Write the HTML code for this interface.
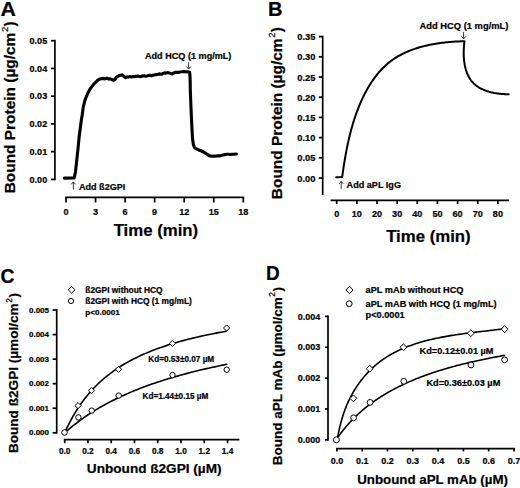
<!DOCTYPE html>
<html><head><meta charset="utf-8"><style>
html,body{margin:0;padding:0;background:#fff;}
svg{display:block;}
svg text{font-family:"Liberation Sans", sans-serif;fill:#000;stroke:#000;stroke-width:0.22px;}
</style></head><body>
<svg width="520" height="488" viewBox="0 0 520 488">
<text x="0" y="0" font-size="20.3" font-weight="bold" transform="translate(0.6,15.8) scale(1.05,1)">A</text>
<line x1="54.90" y1="39.85" x2="54.90" y2="180.25" stroke="#000" stroke-width="1.7"/>
<line x1="51.00" y1="179.40" x2="54.90" y2="179.40" stroke="#000" stroke-width="1.7"/>
<text x="47.20" y="182.60" font-size="9.1" text-anchor="end" font-weight="bold" >0.00</text>
<line x1="51.00" y1="151.66" x2="54.90" y2="151.66" stroke="#000" stroke-width="1.7"/>
<text x="47.20" y="154.86" font-size="9.1" text-anchor="end" font-weight="bold" >0.01</text>
<line x1="51.00" y1="123.92" x2="54.90" y2="123.92" stroke="#000" stroke-width="1.7"/>
<text x="47.20" y="127.12" font-size="9.1" text-anchor="end" font-weight="bold" >0.02</text>
<line x1="51.00" y1="96.18" x2="54.90" y2="96.18" stroke="#000" stroke-width="1.7"/>
<text x="47.20" y="99.38" font-size="9.1" text-anchor="end" font-weight="bold" >0.03</text>
<line x1="51.00" y1="68.44" x2="54.90" y2="68.44" stroke="#000" stroke-width="1.7"/>
<text x="47.20" y="71.64" font-size="9.1" text-anchor="end" font-weight="bold" >0.04</text>
<line x1="51.00" y1="40.70" x2="54.90" y2="40.70" stroke="#000" stroke-width="1.7"/>
<text x="47.20" y="43.90" font-size="9.1" text-anchor="end" font-weight="bold" >0.05</text>
<line x1="65.15" y1="197.40" x2="244.15" y2="197.40" stroke="#000" stroke-width="1.7"/>
<line x1="66.00" y1="197.40" x2="66.00" y2="202.50" stroke="#000" stroke-width="1.7"/>
<text x="66.00" y="215.20" font-size="9.1" text-anchor="middle" font-weight="bold" >0</text>
<line x1="95.55" y1="197.40" x2="95.55" y2="202.50" stroke="#000" stroke-width="1.7"/>
<text x="95.55" y="215.20" font-size="9.1" text-anchor="middle" font-weight="bold" >3</text>
<line x1="125.10" y1="197.40" x2="125.10" y2="202.50" stroke="#000" stroke-width="1.7"/>
<text x="125.10" y="215.20" font-size="9.1" text-anchor="middle" font-weight="bold" >6</text>
<line x1="154.65" y1="197.40" x2="154.65" y2="202.50" stroke="#000" stroke-width="1.7"/>
<text x="154.65" y="215.20" font-size="9.1" text-anchor="middle" font-weight="bold" >9</text>
<line x1="184.20" y1="197.40" x2="184.20" y2="202.50" stroke="#000" stroke-width="1.7"/>
<text x="184.20" y="215.20" font-size="9.1" text-anchor="middle" font-weight="bold" >12</text>
<line x1="213.75" y1="197.40" x2="213.75" y2="202.50" stroke="#000" stroke-width="1.7"/>
<text x="213.75" y="215.20" font-size="9.1" text-anchor="middle" font-weight="bold" >15</text>
<line x1="243.30" y1="197.40" x2="243.30" y2="202.50" stroke="#000" stroke-width="1.7"/>
<text x="243.30" y="215.20" font-size="9.1" text-anchor="middle" font-weight="bold" >18</text>
<text x="155.90" y="236.40" font-size="16.8" text-anchor="middle" font-weight="bold" >Time (min)</text>
<text transform="translate(15.40,107.30) rotate(-90)" x="0" y="0" font-size="15.45" text-anchor="middle" font-weight="bold">Bound Protein (µg/cm<tspan font-size="9.6" font-weight="normal" dy="-7.5" dx="0.6">2</tspan><tspan dy="7.5" dx="0.3">)</tspan></text>
<polyline points="64.30,178.10 74.20,178.00 75.50,171.70 76.70,160.70 77.90,149.60 79.10,137.30 80.40,127.50 81.10,121.70 82.30,114.30 83.30,106.90 84.80,100.80 86.00,97.50 87.20,94.60 88.40,92.00 89.70,89.70 91.20,87.40 92.80,85.40 94.20,83.60 95.80,82.30 97.50,80.40 99.50,79.20 101.30,78.60 103.20,78.40 105.00,78.90 106.90,78.20 108.50,79.00 110.00,78.80 112.00,79.60 113.50,80.20 115.00,79.60 116.50,77.00 117.80,76.30 119.20,75.60 120.80,75.20 122.20,74.90 123.80,76.20 125.50,77.60 127.00,77.00 128.50,76.90 130.00,76.60 131.50,76.90 133.00,76.50 134.50,76.80 136.00,76.30 137.70,76.10 139.50,76.50 141.00,76.60 142.50,75.90 144.00,75.80 145.50,76.30 146.90,76.00 148.50,75.60 150.00,75.30 151.50,75.70 153.00,75.20 155.00,74.80 157.00,74.60 158.50,74.10 160.00,73.90 161.50,74.30 163.10,73.40 164.50,72.90 166.00,73.10 167.70,72.50 169.00,72.90 170.50,73.40 172.30,73.90 173.80,73.00 175.30,72.40 176.90,72.20 178.50,72.50 180.00,72.00 181.80,71.80 183.80,71.40 185.50,71.70 187.00,71.90 188.50,71.90 189.60,72.20 190.00,76.00 190.20,82.00 190.30,90.00 190.80,103.00 191.30,115.00 191.80,125.00 192.20,133.00 192.60,139.00 193.20,143.50 194.30,147.40 195.80,148.60 197.50,149.40 199.50,150.20 201.50,151.00 203.50,152.00 205.50,153.20 207.50,154.60 209.50,155.80 211.50,156.30 213.50,156.00 215.50,156.20 217.50,155.80 219.40,155.90 221.00,155.40 223.00,155.00 225.00,154.60 227.00,154.30 228.40,154.20 230.00,154.50 232.00,154.20 234.00,154.30 236.30,154.00" fill="none" stroke="#000" stroke-width="3.1" stroke-linejoin="round" stroke-linecap="round" />
<text x="145.00" y="59.20" font-size="9.1" text-anchor="start" font-weight="bold" >Add HCQ (1 mg/mL)</text>
<line x1="188.6" y1="62.2" x2="188.6" y2="69.0" stroke="#222" stroke-width="0.9"/>
<polyline points="186.4,66.6 188.6,69.0 190.79999999999998,66.6" fill="none" stroke="#222" stroke-width="0.9"/>
<line x1="73.4" y1="182.0" x2="73.4" y2="189.6" stroke="#222" stroke-width="0.9"/>
<polyline points="71.2,184.4 73.4,182.0 75.60000000000001,184.4" fill="none" stroke="#222" stroke-width="0.9"/>
<text x="78.90" y="190.20" font-size="9.1" text-anchor="start" font-weight="bold" >Add ß2GPI</text>
<text x="268.00" y="15.80" font-size="20" text-anchor="start" font-weight="bold" >B</text>
<line x1="322.70" y1="35.75" x2="322.70" y2="195.00" stroke="#000" stroke-width="1.7"/>
<line x1="318.80" y1="178.00" x2="322.70" y2="178.00" stroke="#000" stroke-width="1.7"/>
<text x="315.40" y="181.50" font-size="9.3" text-anchor="end" font-weight="bold" >0.00</text>
<line x1="318.80" y1="157.80" x2="322.70" y2="157.80" stroke="#000" stroke-width="1.7"/>
<text x="315.40" y="161.30" font-size="9.3" text-anchor="end" font-weight="bold" >0.05</text>
<line x1="318.80" y1="137.60" x2="322.70" y2="137.60" stroke="#000" stroke-width="1.7"/>
<text x="315.40" y="141.10" font-size="9.3" text-anchor="end" font-weight="bold" >0.10</text>
<line x1="318.80" y1="117.40" x2="322.70" y2="117.40" stroke="#000" stroke-width="1.7"/>
<text x="315.40" y="120.90" font-size="9.3" text-anchor="end" font-weight="bold" >0.15</text>
<line x1="318.80" y1="97.20" x2="322.70" y2="97.20" stroke="#000" stroke-width="1.7"/>
<text x="315.40" y="100.70" font-size="9.3" text-anchor="end" font-weight="bold" >0.20</text>
<line x1="318.80" y1="77.00" x2="322.70" y2="77.00" stroke="#000" stroke-width="1.7"/>
<text x="315.40" y="80.50" font-size="9.3" text-anchor="end" font-weight="bold" >0.25</text>
<line x1="318.80" y1="56.80" x2="322.70" y2="56.80" stroke="#000" stroke-width="1.7"/>
<text x="315.40" y="60.30" font-size="9.3" text-anchor="end" font-weight="bold" >0.30</text>
<line x1="318.80" y1="36.60" x2="322.70" y2="36.60" stroke="#000" stroke-width="1.7"/>
<text x="315.40" y="40.10" font-size="9.3" text-anchor="end" font-weight="bold" >0.35</text>
<line x1="330.60" y1="200.40" x2="509.00" y2="200.40" stroke="#000" stroke-width="1.7"/>
<line x1="336.70" y1="200.40" x2="336.70" y2="204.00" stroke="#000" stroke-width="1.7"/>
<text x="336.70" y="216.80" font-size="9.1" text-anchor="middle" font-weight="bold" >0</text>
<line x1="356.85" y1="200.40" x2="356.85" y2="204.00" stroke="#000" stroke-width="1.7"/>
<text x="356.85" y="216.80" font-size="9.1" text-anchor="middle" font-weight="bold" >10</text>
<line x1="377.00" y1="200.40" x2="377.00" y2="204.00" stroke="#000" stroke-width="1.7"/>
<text x="377.00" y="216.80" font-size="9.1" text-anchor="middle" font-weight="bold" >20</text>
<line x1="397.15" y1="200.40" x2="397.15" y2="204.00" stroke="#000" stroke-width="1.7"/>
<text x="397.15" y="216.80" font-size="9.1" text-anchor="middle" font-weight="bold" >30</text>
<line x1="417.30" y1="200.40" x2="417.30" y2="204.00" stroke="#000" stroke-width="1.7"/>
<text x="417.30" y="216.80" font-size="9.1" text-anchor="middle" font-weight="bold" >40</text>
<line x1="437.45" y1="200.40" x2="437.45" y2="204.00" stroke="#000" stroke-width="1.7"/>
<text x="437.45" y="216.80" font-size="9.1" text-anchor="middle" font-weight="bold" >50</text>
<line x1="457.60" y1="200.40" x2="457.60" y2="204.00" stroke="#000" stroke-width="1.7"/>
<text x="457.60" y="216.80" font-size="9.1" text-anchor="middle" font-weight="bold" >60</text>
<line x1="477.75" y1="200.40" x2="477.75" y2="204.00" stroke="#000" stroke-width="1.7"/>
<text x="477.75" y="216.80" font-size="9.1" text-anchor="middle" font-weight="bold" >70</text>
<line x1="497.90" y1="200.40" x2="497.90" y2="204.00" stroke="#000" stroke-width="1.7"/>
<text x="497.90" y="216.80" font-size="9.1" text-anchor="middle" font-weight="bold" >80</text>
<text x="428.40" y="242.30" font-size="16.8" text-anchor="middle" font-weight="bold" >Time (min)</text>
<text transform="translate(282.30,113.10) rotate(-90)" x="0" y="0" font-size="15.45" text-anchor="middle" font-weight="bold">Bound Protein (µg/cm<tspan font-size="9.6" font-weight="normal" dy="-7.5" dx="0.6">2</tspan><tspan dy="7.5" dx="0.3">)</tspan></text>
<polyline points="336.20,177.20 342.17,177.04 342.37,175.62 342.57,174.19 342.77,172.76 342.98,171.33 343.19,169.89 343.40,168.46 343.62,167.02 343.84,165.58 344.07,164.13 344.30,162.69 344.54,161.24 344.78,159.79 345.02,158.34 345.27,156.89 345.53,155.43 345.79,153.98 346.06,152.53 346.34,151.07 346.62,149.62 346.91,148.16 347.20,146.71 347.50,145.25 347.81,143.80 348.12,142.34 348.45,140.89 348.78,139.44 349.11,137.99 349.46,136.54 349.81,135.09 350.18,133.64 350.55,132.19 350.93,130.75 351.31,129.31 351.71,127.87 352.12,126.43 352.53,124.99 352.96,123.56 353.39,122.13 353.84,120.71 354.30,119.28 354.76,117.86 355.24,116.45 355.73,115.03 356.22,113.62 356.73,112.22 357.25,110.82 357.79,109.42 358.33,108.03 358.88,106.64 359.45,105.26 360.03,103.88 360.62,102.51 361.23,101.14 361.85,99.78 362.48,98.42 363.12,97.07 363.78,95.73 364.45,94.39 365.13,93.07 365.83,91.74 366.54,90.43 367.27,89.13 368.01,87.84 368.77,86.56 369.54,85.29 370.32,84.03 371.12,82.78 371.94,81.55 372.77,80.33 373.62,79.12 374.48,77.93 375.36,76.75 376.26,75.59 377.17,74.44 378.10,73.31 379.04,72.20 380.01,71.11 380.99,70.03 381.98,68.98 383.00,67.94 384.03,66.92 385.08,65.92 386.15,64.95 387.24,63.99 388.35,63.06 389.47,62.15 390.62,61.26 391.78,60.40 392.96,59.56 394.16,58.75 395.38,57.96 396.61,57.19 397.86,56.44 399.13,55.72 400.41,55.01 401.71,54.33 403.02,53.67 404.34,53.03 405.68,52.42 407.03,51.82 408.39,51.24 409.77,50.68 411.15,50.15 412.55,49.63 413.96,49.13 415.37,48.65 416.79,48.18 418.22,47.74 419.66,47.31 421.11,46.90 422.56,46.51 424.02,46.13 425.49,45.77 426.96,45.43 428.43,45.10 429.91,44.79 431.39,44.50 432.87,44.22 434.36,43.95 435.84,43.70 437.33,43.46 438.82,43.24 440.31,43.03 441.80,42.83 443.28,42.65 444.77,42.47 446.25,42.32 447.73,42.17 449.20,42.03 450.68,41.91 452.15,41.80 453.61,41.69 455.07,41.60 456.52,41.52 457.96,41.45 459.40,41.39 460.83,41.34 462.25,41.30 463.66,41.26 464.51,41.17 464.38,42.20 464.26,43.23 464.14,44.28 464.04,45.33 463.96,46.38 463.88,47.45 463.82,48.51 463.76,49.58 463.73,50.65 463.70,51.73 463.69,52.80 463.70,53.88 463.72,54.95 463.76,56.02 463.81,57.10 463.88,58.17 463.97,59.23 464.07,60.30 464.19,61.35 464.33,62.40 464.49,63.45 464.67,64.49 464.86,65.52 465.08,66.54 465.32,67.55 465.57,68.55 465.85,69.54 466.15,70.52 466.48,71.49 466.82,72.44 467.19,73.38 467.59,74.30 468.00,75.21 468.44,76.10 468.91,76.97 469.40,77.83 469.92,78.67 470.46,79.49 471.03,80.28 471.62,81.06 472.25,81.81 472.90,82.55 473.58,83.26 474.29,83.94 475.02,84.60 475.79,85.24 476.58,85.85 477.41,86.43 478.25,86.99 479.12,87.53 480.01,88.04 480.93,88.53 481.86,89.00 482.81,89.44 483.78,89.86 484.76,90.26 485.76,90.64 486.77,91.00 487.80,91.33 488.83,91.65 489.87,91.94 490.93,92.22 491.98,92.47 493.04,92.71 494.11,92.93 495.18,93.12 496.25,93.30 497.32,93.47 498.38,93.61 499.45,93.74 500.51,93.85 501.56,93.94 502.61,94.02 503.65,94.08 504.68,94.13 505.70,94.16 506.70,94.17 507.70,94.17 508.67,94.16" fill="none" stroke="#000" stroke-width="2.0" stroke-linejoin="round" stroke-linecap="round" />
<text x="419.60" y="29.00" font-size="9.35" text-anchor="start" font-weight="bold" >Add HCQ (1 mg/mL)</text>
<line x1="463.6" y1="31.8" x2="463.6" y2="38.8" stroke="#222" stroke-width="0.9"/>
<polyline points="461.40000000000003,36.4 463.6,38.8 465.8,36.4" fill="none" stroke="#222" stroke-width="0.9"/>
<line x1="341.2" y1="181.5" x2="341.2" y2="188.8" stroke="#222" stroke-width="0.9"/>
<polyline points="339.0,183.9 341.2,181.5 343.4,183.9" fill="none" stroke="#222" stroke-width="0.9"/>
<text x="346.60" y="188.30" font-size="9.1" text-anchor="start" font-weight="bold" >Add aPL IgG</text>
<text x="0" y="0" font-size="20.8" font-weight="bold" transform="translate(0.6,282.7) scale(0.93,1)">C</text>
<line x1="56.70" y1="309.20" x2="56.70" y2="433.65" stroke="#000" stroke-width="1.7"/>
<line x1="52.60" y1="432.80" x2="56.70" y2="432.80" stroke="#000" stroke-width="1.7"/>
<text x="49.00" y="435.30" font-size="8.0" text-anchor="end" font-weight="bold" >0.000</text>
<line x1="52.60" y1="408.25" x2="56.70" y2="408.25" stroke="#000" stroke-width="1.7"/>
<text x="49.00" y="410.75" font-size="8.0" text-anchor="end" font-weight="bold" >0.001</text>
<line x1="52.60" y1="383.70" x2="56.70" y2="383.70" stroke="#000" stroke-width="1.7"/>
<text x="49.00" y="386.20" font-size="8.0" text-anchor="end" font-weight="bold" >0.002</text>
<line x1="52.60" y1="359.15" x2="56.70" y2="359.15" stroke="#000" stroke-width="1.7"/>
<text x="49.00" y="361.65" font-size="8.0" text-anchor="end" font-weight="bold" >0.003</text>
<line x1="52.60" y1="334.60" x2="56.70" y2="334.60" stroke="#000" stroke-width="1.7"/>
<text x="49.00" y="337.10" font-size="8.0" text-anchor="end" font-weight="bold" >0.004</text>
<line x1="52.60" y1="310.05" x2="56.70" y2="310.05" stroke="#000" stroke-width="1.7"/>
<text x="49.00" y="312.55" font-size="8.0" text-anchor="end" font-weight="bold" >0.005</text>
<line x1="63.85" y1="439.70" x2="239.40" y2="439.70" stroke="#000" stroke-width="1.7"/>
<line x1="64.70" y1="439.70" x2="64.70" y2="443.20" stroke="#000" stroke-width="1.7"/>
<text x="64.70" y="454.10" font-size="8.3" text-anchor="middle" font-weight="bold" >0.0</text>
<line x1="87.96" y1="439.70" x2="87.96" y2="443.20" stroke="#000" stroke-width="1.7"/>
<text x="87.96" y="454.10" font-size="8.3" text-anchor="middle" font-weight="bold" >0.2</text>
<line x1="111.22" y1="439.70" x2="111.22" y2="443.20" stroke="#000" stroke-width="1.7"/>
<text x="111.22" y="454.10" font-size="8.3" text-anchor="middle" font-weight="bold" >0.4</text>
<line x1="134.48" y1="439.70" x2="134.48" y2="443.20" stroke="#000" stroke-width="1.7"/>
<text x="134.48" y="454.10" font-size="8.3" text-anchor="middle" font-weight="bold" >0.6</text>
<line x1="157.74" y1="439.70" x2="157.74" y2="443.20" stroke="#000" stroke-width="1.7"/>
<text x="157.74" y="454.10" font-size="8.3" text-anchor="middle" font-weight="bold" >0.8</text>
<line x1="181.00" y1="439.70" x2="181.00" y2="443.20" stroke="#000" stroke-width="1.7"/>
<text x="181.00" y="454.10" font-size="8.3" text-anchor="middle" font-weight="bold" >1.0</text>
<line x1="204.26" y1="439.70" x2="204.26" y2="443.20" stroke="#000" stroke-width="1.7"/>
<text x="204.26" y="454.10" font-size="8.3" text-anchor="middle" font-weight="bold" >1.2</text>
<line x1="227.52" y1="439.70" x2="227.52" y2="443.20" stroke="#000" stroke-width="1.7"/>
<text x="227.52" y="454.10" font-size="8.3" text-anchor="middle" font-weight="bold" >1.4</text>
<text x="154.20" y="472.90" font-size="13.6" text-anchor="middle" font-weight="bold" >Unbound ß2GPI (µM)</text>
<text transform="translate(18.40,373.10) rotate(-90)" x="0" y="0" font-size="13.6" text-anchor="middle" font-weight="bold">Bound ß2GPI (µmol/cm<tspan font-size="8.6" font-weight="normal" dy="-6.8" dx="0.6">2</tspan><tspan dy="6.8" dx="0.3">)</tspan></text>
<polyline points="64.70,432.80 65.24,431.59 66.04,429.86 66.96,427.89 67.99,425.78 69.09,423.57 70.27,421.30 71.50,419.00 72.79,416.68 74.13,414.36 75.52,412.05 76.95,409.76 78.41,407.50 79.92,405.27 81.45,403.07 83.03,400.91 84.63,398.79 86.26,396.72 87.93,394.69 89.62,392.70 91.34,390.76 93.08,388.86 94.85,387.01 96.64,385.21 98.46,383.45 100.30,381.73 102.16,380.06 104.05,378.43 105.95,376.84 107.88,375.30 109.82,373.79 111.79,372.32 113.77,370.89 115.78,369.50 117.80,368.15 119.84,366.82 121.89,365.54 123.97,364.28 126.06,363.06 128.17,361.87 130.29,360.71 132.43,359.58 134.58,358.48 136.76,357.41 138.94,356.36 141.14,355.34 143.36,354.34 145.59,353.37 147.83,352.42 150.09,351.50 152.36,350.60 154.65,349.72 156.95,348.86 159.26,348.02 161.59,347.20 163.93,346.40 166.28,345.62 168.64,344.85 171.02,344.11 173.41,343.38 175.81,342.66 178.22,341.97 180.65,341.29 183.09,340.62 185.53,339.97 187.99,339.33 190.47,338.71 192.95,338.10 195.44,337.50 197.95,336.92 200.46,336.35 202.99,335.79 205.53,335.24 208.08,334.70 210.63,334.17 213.20,333.66 215.78,333.15 218.37,332.66 220.97,332.17 223.58,331.70 226.20,331.23" fill="none" stroke="#000" stroke-width="1.6" stroke-linejoin="round" stroke-linecap="round" />
<polyline points="64.70,432.80 66.73,431.01 68.75,429.28 70.78,427.59 72.80,425.94 74.83,424.34 76.85,422.78 78.88,421.25 80.90,419.77 82.93,418.32 84.95,416.91 86.97,415.53 89.00,414.19 91.03,412.88 93.05,411.59 95.08,410.34 97.10,409.12 99.12,407.92 101.15,406.75 103.18,405.60 105.20,404.48 107.22,403.39 109.25,402.32 111.28,401.27 113.30,400.24 115.33,399.24 117.35,398.25 119.38,397.28 121.40,396.34 123.43,395.41 125.45,394.50 127.47,393.61 129.50,392.74 131.53,391.88 133.55,391.04 135.57,390.21 137.60,389.40 139.62,388.61 141.65,387.82 143.68,387.06 145.70,386.30 147.73,385.56 149.75,384.84 151.78,384.12 153.80,383.42 155.82,382.73 157.85,382.05 159.88,381.39 161.90,380.73 163.93,380.09 165.95,379.45 167.98,378.83 170.00,378.22 172.03,377.61 174.05,377.02 176.07,376.43 178.10,375.86 180.12,375.29 182.15,374.73 184.18,374.18 186.20,373.64 188.23,373.11 190.25,372.59 192.28,372.07 194.30,371.56 196.32,371.06 198.35,370.56 200.38,370.07 202.40,369.59 204.43,369.12 206.45,368.65 208.48,368.19 210.50,367.74 212.52,367.29 214.55,366.85 216.57,366.41 218.60,365.98 220.62,365.56 222.65,365.14 224.68,364.73 226.70,364.32" fill="none" stroke="#000" stroke-width="1.6" stroke-linejoin="round" stroke-linecap="round" />
<polygon points="78.0,402.5 81.1,405.6 78.0,408.70000000000005 74.9,405.6" fill="#fff" stroke="#000" stroke-width="1.0"/>
<polygon points="91.5,387.4 94.6,390.5 91.5,393.6 88.4,390.5" fill="#fff" stroke="#000" stroke-width="1.0"/>
<polygon points="118.5,366.2 121.6,369.3 118.5,372.40000000000003 115.4,369.3" fill="#fff" stroke="#000" stroke-width="1.0"/>
<polygon points="172.5,340.29999999999995 175.6,343.4 172.5,346.5 169.4,343.4" fill="#fff" stroke="#000" stroke-width="1.0"/>
<polygon points="226.6,324.9 229.7,328.0 226.6,331.1 223.5,328.0" fill="#fff" stroke="#000" stroke-width="1.0"/>
<circle cx="78.4" cy="417.4" r="2.7" fill="#fff" stroke="#000" stroke-width="1.0"/>
<circle cx="91.7" cy="410.6" r="2.7" fill="#fff" stroke="#000" stroke-width="1.0"/>
<circle cx="118.7" cy="395.6" r="2.7" fill="#fff" stroke="#000" stroke-width="1.0"/>
<circle cx="172.5" cy="375.0" r="2.7" fill="#fff" stroke="#000" stroke-width="1.0"/>
<circle cx="226.7" cy="369.7" r="2.7" fill="#fff" stroke="#000" stroke-width="1.0"/>
<circle cx="64.5" cy="432.5" r="2.8" fill="#fff" stroke="#000" stroke-width="1.0"/>
<polygon points="71.6,286.40000000000003 75.0,289.8 71.6,293.2 68.19999999999999,289.8" fill="#fff" stroke="#000" stroke-width="1.0"/>
<circle cx="71.0" cy="301.0" r="2.6" fill="#fff" stroke="#000" stroke-width="1.0"/>
<text x="85.30" y="292.70" font-size="8.4" text-anchor="start" font-weight="bold" >ß2GPI without HCQ</text>
<text x="85.30" y="304.10" font-size="8.4" text-anchor="start" font-weight="bold" >ß2GPI with HCQ (1 mg/mL)</text>
<text x="85.30" y="315.10" font-size="8.1" text-anchor="start" font-weight="bold" >p&lt;0.0001</text>
<text x="148.30" y="361.60" font-size="8.2" text-anchor="start" font-weight="bold" >Kd=0.53±0.07 µM</text>
<text x="142.50" y="398.80" font-size="8.2" text-anchor="start" font-weight="bold" >Kd=1.44±0.15 µM</text>
<text x="0" y="0" font-size="20" font-weight="bold" transform="translate(265.9,280.2) scale(0.95,1)">D</text>
<line x1="328.00" y1="315.55" x2="328.00" y2="440.65" stroke="#000" stroke-width="1.7"/>
<line x1="325.00" y1="439.80" x2="328.00" y2="439.80" stroke="#000" stroke-width="1.7"/>
<text x="320.30" y="442.90" font-size="9.0" text-anchor="end" font-weight="bold" >0.000</text>
<line x1="325.00" y1="408.95" x2="328.00" y2="408.95" stroke="#000" stroke-width="1.7"/>
<text x="320.30" y="412.05" font-size="9.0" text-anchor="end" font-weight="bold" >0.001</text>
<line x1="325.00" y1="378.10" x2="328.00" y2="378.10" stroke="#000" stroke-width="1.7"/>
<text x="320.30" y="381.20" font-size="9.0" text-anchor="end" font-weight="bold" >0.002</text>
<line x1="325.00" y1="347.25" x2="328.00" y2="347.25" stroke="#000" stroke-width="1.7"/>
<text x="320.30" y="350.35" font-size="9.0" text-anchor="end" font-weight="bold" >0.003</text>
<line x1="325.00" y1="316.40" x2="328.00" y2="316.40" stroke="#000" stroke-width="1.7"/>
<text x="320.30" y="319.50" font-size="9.0" text-anchor="end" font-weight="bold" >0.004</text>
<line x1="336.05" y1="448.60" x2="514.85" y2="448.60" stroke="#000" stroke-width="1.7"/>
<line x1="336.90" y1="448.60" x2="336.90" y2="451.40" stroke="#000" stroke-width="1.7"/>
<text x="336.90" y="464.40" font-size="9.0" text-anchor="middle" font-weight="bold" >0.0</text>
<line x1="362.20" y1="448.60" x2="362.20" y2="451.40" stroke="#000" stroke-width="1.7"/>
<text x="362.20" y="464.40" font-size="9.0" text-anchor="middle" font-weight="bold" >0.1</text>
<line x1="387.50" y1="448.60" x2="387.50" y2="451.40" stroke="#000" stroke-width="1.7"/>
<text x="387.50" y="464.40" font-size="9.0" text-anchor="middle" font-weight="bold" >0.2</text>
<line x1="412.80" y1="448.60" x2="412.80" y2="451.40" stroke="#000" stroke-width="1.7"/>
<text x="412.80" y="464.40" font-size="9.0" text-anchor="middle" font-weight="bold" >0.3</text>
<line x1="438.10" y1="448.60" x2="438.10" y2="451.40" stroke="#000" stroke-width="1.7"/>
<text x="438.10" y="464.40" font-size="9.0" text-anchor="middle" font-weight="bold" >0.4</text>
<line x1="463.40" y1="448.60" x2="463.40" y2="451.40" stroke="#000" stroke-width="1.7"/>
<text x="463.40" y="464.40" font-size="9.0" text-anchor="middle" font-weight="bold" >0.5</text>
<line x1="488.70" y1="448.60" x2="488.70" y2="451.40" stroke="#000" stroke-width="1.7"/>
<text x="488.70" y="464.40" font-size="9.0" text-anchor="middle" font-weight="bold" >0.6</text>
<line x1="514.00" y1="448.60" x2="514.00" y2="451.40" stroke="#000" stroke-width="1.7"/>
<text x="514.00" y="464.40" font-size="9.0" text-anchor="middle" font-weight="bold" >0.7</text>
<text x="432.60" y="484.40" font-size="13.3" text-anchor="middle" font-weight="bold" >Unbound aPL mAb (µM)</text>
<text transform="translate(281.70,376.20) rotate(-90)" x="0" y="0" font-size="13.5" text-anchor="middle" font-weight="bold">Bound aPL mAb (µmol/cm<tspan font-size="8.6" font-weight="normal" dy="-6.8" dx="0.6">2</tspan><tspan dy="6.8" dx="0.3">)</tspan></text>
<polyline points="337.02,440.00 337.30,438.61 337.58,437.22 337.86,435.84 338.15,434.45 338.44,433.07 338.74,431.69 339.05,430.31 339.36,428.93 339.68,427.55 340.01,426.18 340.35,424.81 340.70,423.44 341.06,422.07 341.43,420.71 341.81,419.36 342.20,418.00 342.60,416.65 343.02,415.31 343.46,413.97 343.90,412.64 344.37,411.31 344.84,409.98 345.34,408.67 345.85,407.36 346.38,406.05 346.92,404.75 347.48,403.46 348.06,402.18 348.65,400.90 349.26,399.63 349.88,398.37 350.52,397.12 351.17,395.87 351.84,394.64 352.53,393.41 353.22,392.19 353.94,390.98 354.67,389.78 355.41,388.60 356.17,387.42 356.94,386.25 357.73,385.09 358.53,383.95 359.34,382.81 360.17,381.69 361.01,380.58 361.86,379.48 362.73,378.39 363.62,377.31 364.51,376.25 365.42,375.20 366.34,374.17 367.27,373.14 368.22,372.14 369.18,371.14 370.15,370.16 371.13,369.20 372.13,368.25 373.14,367.31 374.16,366.39 375.19,365.49 376.23,364.60 377.29,363.73 378.35,362.87 379.43,362.03 380.52,361.21 381.62,360.40 382.73,359.61 383.85,358.84 384.98,358.08 386.12,357.33 387.27,356.60 388.43,355.89 389.60,355.19 390.78,354.51 391.97,353.84 393.17,353.19 394.38,352.54 395.59,351.92 396.82,351.30 398.05,350.70 399.29,350.12 400.54,349.54 401.80,348.98 403.06,348.43 404.33,347.90 405.61,347.38 406.89,346.86 408.19,346.36 409.48,345.88 410.79,345.40 412.10,344.93 413.42,344.48 414.74,344.04 416.07,343.60 417.40,343.18 418.74,342.77 420.09,342.37 421.44,341.97 422.79,341.59 424.15,341.22 425.51,340.85 426.88,340.50 428.25,340.15 429.63,339.81 431.01,339.48 432.39,339.16 433.77,338.85 435.16,338.54 436.55,338.25 437.95,337.95 439.34,337.67 440.74,337.39 442.14,337.12 443.55,336.86 444.95,336.60 446.36,336.35 447.76,336.11 449.17,335.87 450.58,335.64 451.99,335.41 453.40,335.19 454.81,334.97 456.23,334.75 457.64,334.55 459.05,334.34 460.46,334.14 461.87,333.94 463.28,333.75 464.69,333.56 466.10,333.38 467.51,333.19 468.91,333.01 470.32,332.84 471.72,332.66 473.12,332.49 474.51,332.32 475.91,332.15 477.30,331.98 478.69,331.82 480.08,331.66 481.46,331.49 482.85,331.33 484.22,331.17 485.60,331.01 486.97,330.85 488.33,330.69 489.69,330.53 491.05,330.37 492.40,330.21 493.75,330.04 495.09,329.88 496.43,329.72 497.76,329.55 499.09,329.38 500.41,329.21 501.72,329.04 503.03,328.87 504.33,328.70" fill="none" stroke="#000" stroke-width="1.6" stroke-linejoin="round" stroke-linecap="round" />
<polyline points="336.27,439.60 336.97,438.56 337.68,437.53 338.39,436.51 339.12,435.49 339.85,434.49 340.59,433.49 341.34,432.50 342.09,431.52 342.85,430.55 343.62,429.59 344.40,428.64 345.18,427.69 345.97,426.75 346.77,425.82 347.57,424.90 348.38,423.99 349.20,423.09 350.03,422.19 350.86,421.30 351.70,420.43 352.54,419.55 353.39,418.69 354.25,417.83 355.11,416.99 355.98,416.15 356.86,415.31 357.74,414.49 358.63,413.67 359.53,412.87 360.43,412.06 361.34,411.27 362.25,410.48 363.17,409.70 364.09,408.93 365.02,408.17 365.96,407.41 366.90,406.66 367.85,405.92 368.80,405.19 369.76,404.46 370.72,403.74 371.69,403.02 372.67,402.32 373.64,401.62 374.63,400.92 375.62,400.24 376.61,399.56 377.61,398.89 378.61,398.22 379.62,397.56 380.64,396.91 381.65,396.26 382.68,395.63 383.70,394.99 384.74,394.37 385.77,393.75 386.81,393.13 387.86,392.53 388.91,391.92 389.96,391.33 391.02,390.74 392.08,390.16 393.14,389.58 394.21,389.01 395.28,388.45 396.36,387.89 397.44,387.34 398.53,386.79 399.61,386.25 400.70,385.71 401.80,385.18 402.90,384.66 404.00,384.14 405.10,383.63 406.21,383.12 407.32,382.62 408.44,382.12 409.55,381.63 410.67,381.15 411.80,380.66 412.92,380.19 414.05,379.72 415.18,379.25 416.32,378.79 417.45,378.34 418.59,377.89 419.73,377.44 420.88,377.00 422.02,376.57 423.17,376.14 424.32,375.71 425.48,375.29 426.63,374.88 427.79,374.46 428.95,374.06 430.11,373.65 431.27,373.26 432.44,372.86 433.60,372.47 434.77,372.09 435.94,371.71 437.11,371.33 438.28,370.96 439.46,370.59 440.63,370.23 441.81,369.87 442.99,369.51 444.17,369.16 445.35,368.81 446.53,368.46 447.71,368.12 448.89,367.79 450.08,367.45 451.26,367.12 452.45,366.80 453.63,366.48 454.82,366.16 456.01,365.84 457.19,365.53 458.38,365.22 459.57,364.92 460.76,364.62 461.95,364.32 463.14,364.02 464.33,363.73 465.51,363.44 466.70,363.16 467.89,362.87 469.08,362.59 470.27,362.32 471.46,362.04 472.65,361.77 473.83,361.50 475.02,361.24 476.21,360.97 477.39,360.71 478.58,360.46 479.76,360.20 480.95,359.95 482.13,359.70 483.31,359.45 484.49,359.20 485.67,358.96 486.85,358.72 488.03,358.48 489.21,358.24 490.38,358.01 491.56,357.78 492.73,357.55 493.90,357.32 495.07,357.09 496.24,356.87 497.41,356.65 498.57,356.42 499.73,356.21 500.89,355.99 502.05,355.77 503.21,355.56 504.37,355.35" fill="none" stroke="#000" stroke-width="1.6" stroke-linejoin="round" stroke-linecap="round" />
<polygon points="353.4,394.90000000000003 356.79999999999995,398.3 353.4,401.7 350.0,398.3" fill="#fff" stroke="#000" stroke-width="1.0"/>
<polygon points="369.7,365.3 373.09999999999997,368.7 369.7,372.09999999999997 366.3,368.7" fill="#fff" stroke="#000" stroke-width="1.0"/>
<polygon points="403.4,343.8 406.79999999999995,347.2 403.4,350.59999999999997 400.0,347.2" fill="#fff" stroke="#000" stroke-width="1.0"/>
<polygon points="470.8,329.8 474.2,333.2 470.8,336.59999999999997 467.40000000000003,333.2" fill="#fff" stroke="#000" stroke-width="1.0"/>
<polygon points="504.6,325.8 508.0,329.2 504.6,332.59999999999997 501.20000000000005,329.2" fill="#fff" stroke="#000" stroke-width="1.0"/>
<circle cx="353.6" cy="417.8" r="2.9" fill="#fff" stroke="#000" stroke-width="1.0"/>
<circle cx="370.1" cy="402.4" r="2.9" fill="#fff" stroke="#000" stroke-width="1.0"/>
<circle cx="403.8" cy="381.3" r="2.9" fill="#fff" stroke="#000" stroke-width="1.0"/>
<circle cx="471.0" cy="365.0" r="2.9" fill="#fff" stroke="#000" stroke-width="1.0"/>
<circle cx="504.6" cy="359.8" r="2.9" fill="#fff" stroke="#000" stroke-width="1.0"/>
<circle cx="336.4" cy="439.8" r="3.0" fill="#fff" stroke="#000" stroke-width="1.0"/>
<polygon points="349.5,286.4 353.1,290.0 349.5,293.6 345.9,290.0" fill="#fff" stroke="#000" stroke-width="1.0"/>
<circle cx="349.2" cy="303.7" r="2.9" fill="#fff" stroke="#000" stroke-width="1.0"/>
<text x="365.60" y="293.00" font-size="9.2" text-anchor="start" font-weight="bold" >aPL mAb without HCQ</text>
<text x="365.60" y="306.50" font-size="9.2" text-anchor="start" font-weight="bold" >aPL mAB with HCQ (1 mg/mL)</text>
<text x="365.60" y="318.40" font-size="9.2" text-anchor="start" font-weight="bold" >p&lt;0.0001</text>
<text x="419.60" y="353.80" font-size="9.2" text-anchor="start" font-weight="bold" >Kd=0.12±0.01 µM</text>
<text x="426.40" y="385.60" font-size="9.2" text-anchor="start" font-weight="bold" >Kd=0.36±0.03 µM</text>
</svg>
</body></html>
